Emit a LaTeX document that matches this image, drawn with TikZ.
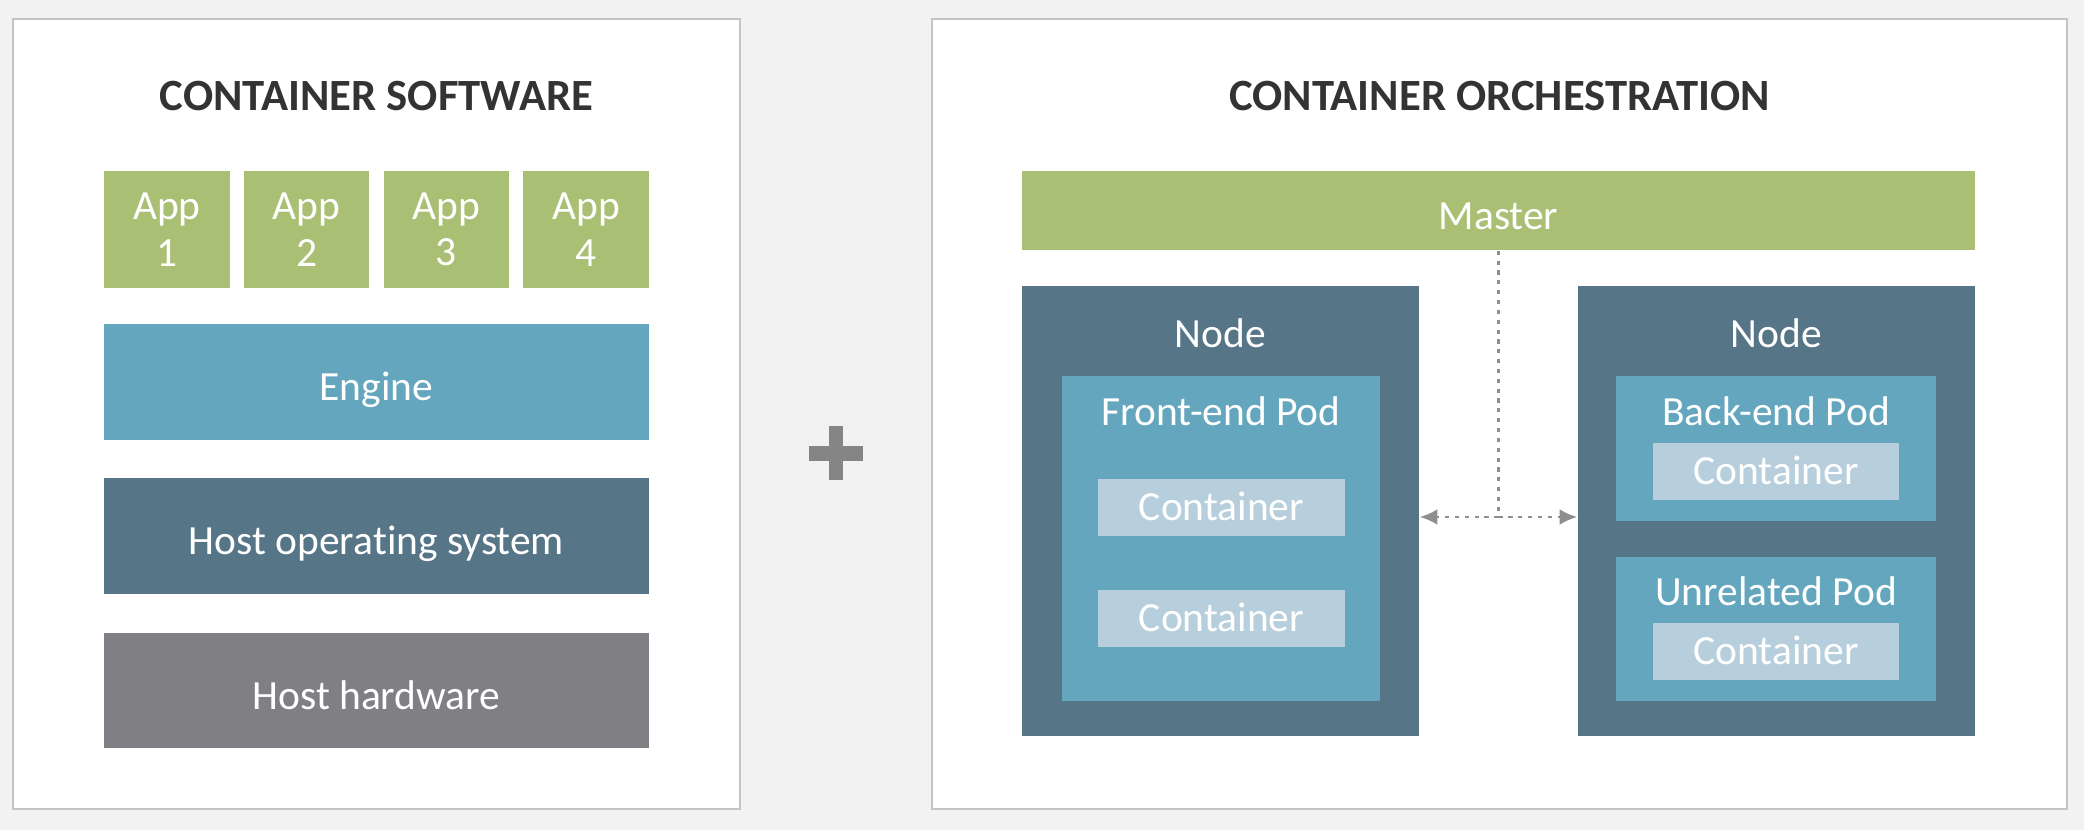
\documentclass[tikz,border=0pt]{standalone}
\usepackage{fontspec}
\setmainfont{Carlito}[RawFeature={-liga}]
\usetikzlibrary{arrows.meta}
\definecolor{bg}{HTML}{F2F2F2}
\definecolor{panelborder}{HTML}{C4C4C4}
\definecolor{appgreen}{HTML}{A9BF74}
\definecolor{engblue}{HTML}{63A6BE}
\definecolor{osslate}{HTML}{567587}
\definecolor{hwgray}{HTML}{808084}
\definecolor{contlight}{HTML}{B7CFDC}
\definecolor{titlegray}{HTML}{333333}
\definecolor{plusgray}{HTML}{858585}
\definecolor{linegray}{HTML}{8E8E8E}
\begin{document}
\begin{tikzpicture}[x=0.01cm,y=-0.01cm,
  panel/.style={rectangle, inner sep=0pt, fill=white, draw=panelborder, line width=0.6pt},
  box/.style={rectangle, inner sep=0pt, draw=none, text=white, align=center,
    font=\fontsize{11.8}{13}\selectfont, text height=7.6pt, text depth=0pt},
  bigbox/.style={box, text height=10.6pt},
  appbox/.style={rectangle, inner sep=0pt, draw=none, text=white, align=center,
    font=\fontsize{11.8}{13.2}\selectfont, fill=appgreen, minimum width=1.257cm, minimum height=1.17cm},
  lbl/.style={inner sep=0pt, text=white, font=\fontsize{11.8}{13}\selectfont},
  ttl/.style={inner sep=0pt, text=titlegray, font=\bfseries\fontsize{12.7}{14}\selectfont},
  conn/.style={draw=linegray, line width=0.7pt, dash pattern=on 1.2pt off 1.6pt},
  tip/.style={-{Latex[length=5pt,width=4.5pt]}}
]
\fill[bg] (0,0) rectangle (2084,830);
\useasboundingbox (0,0) rectangle (2084,830);

% ---------- left panel ----------
\node[panel, minimum width=7.27cm, minimum height=7.90cm] (panelL) at (376.5,414) {};
\node[ttl] (titleL) at (376.5,96) {CONTAINER SOFTWARE};

\node[appbox] (app1) at (166.9,229.5) {App\\1};
\node[appbox] (app2) at (306.6,229.5) {App\\2};
\node[appbox] (app3) at (446.4,229.5) {App\\3};
\node[appbox] (app4) at (586.1,229.5) {App\\4};

\node[bigbox, fill=engblue, minimum width=5.45cm, minimum height=1.16cm] (engine) at (376.5,382) {Engine};
\node[bigbox, fill=osslate, minimum width=5.45cm, minimum height=1.16cm] (hostos) at (376.5,536) {Host operating system};
\node[bigbox, fill=hwgray, minimum width=5.45cm, minimum height=1.15cm] (hosthw) at (376.5,690.5) {Host hardware};

% ---------- plus ----------
\fill[plusgray] (809,446) rectangle (863,461);
\fill[plusgray] (829,426) rectangle (843,480);

% ---------- right panel ----------
\node[panel, minimum width=11.35cm, minimum height=7.90cm] (panelR) at (1499.5,414) {};
\node[ttl] (titleR) at (1499.5,96) {CONTAINER ORCHESTRATION};

\node[bigbox, fill=appgreen, minimum width=9.53cm, minimum height=0.79cm] (master) at (1498.5,210.5) {Master};

\node[box, fill=osslate, minimum width=3.97cm, minimum height=4.50cm] (nodeL) at (1220.5,511) {};
\node[box, fill=osslate, minimum width=3.97cm, minimum height=4.50cm] (nodeR) at (1776.5,511) {};
\node[lbl] (nodeLlbl) at (1220.5,333) {Node};
\node[lbl] (nodeRlbl) at (1776.5,333) {Node};

\node[box, fill=engblue, minimum width=3.18cm, minimum height=3.25cm] (fepod) at (1221,538.5) {};
\node[lbl] (fepodlbl) at (1221,411) {Front-end Pod};
\node[box, fill=contlight, minimum width=2.47cm, minimum height=0.57cm] (fec1) at (1221.5,507.5) {Container};
\node[box, fill=contlight, minimum width=2.47cm, minimum height=0.57cm] (fec2) at (1221.5,618.5) {Container};

\node[box, fill=engblue, minimum width=3.20cm, minimum height=1.45cm] (bepod) at (1776,448.5) {};
\node[lbl] (bepodlbl) at (1776,411) {Back-end Pod};
\node[box, fill=contlight, minimum width=2.46cm, minimum height=0.57cm] (bec) at (1776,471.5) {Container};

\node[box, fill=engblue, minimum width=3.20cm, minimum height=1.44cm] (unpod) at (1776,629) {};
\node[lbl] (unpodlbl) at (1776,591) {Unrelated Pod};
\node[box, fill=contlight, minimum width=2.46cm, minimum height=0.57cm] (unc) at (1776,651.5) {Container};

% ---------- connectors ----------
\coordinate (junction) at (1498.5,517);
\draw[conn] (master.south) -- (junction);
\draw[conn, tip] (junction) -- (nodeL.east |- junction);
\draw[conn, tip] (junction) -- (nodeR.west |- junction);
\end{tikzpicture}
\end{document}
